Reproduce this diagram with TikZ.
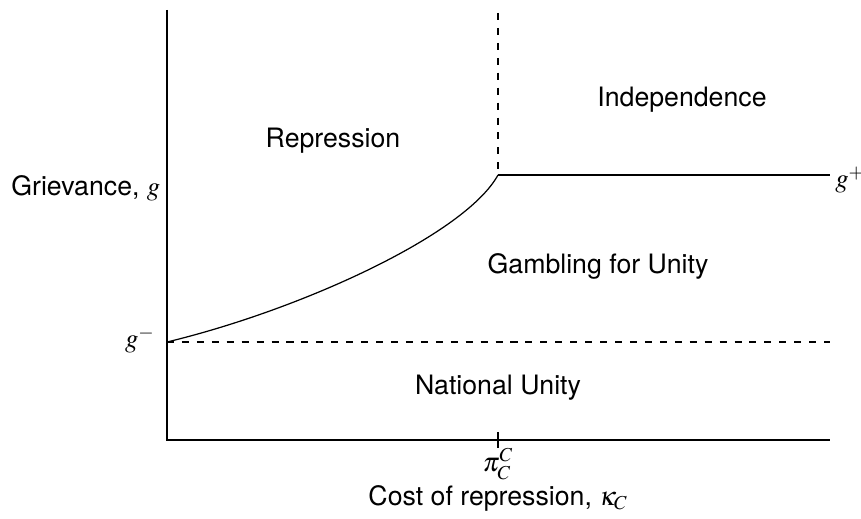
\documentclass[tikz,border=0pt]{standalone}
\usepackage{mathptmx}
\usepackage[no-math]{fontspec}
\setmainfont{TeX Gyre Heros}
\usetikzlibrary{positioning,calc}

\begin{document}
\begin{tikzpicture}[x=0.02cm,y=-0.02cm]
\tikzstyle{region}=[font=\fontsize{15.2}{17}\selectfont, inner sep=0pt];
\tikzstyle{axis}=[line width=1.1pt];
\tikzstyle{bound}=[line width=1.1pt, dash pattern=on 4pt off 4.5pt];
\tikzstyle{frontier}=[line width=0.7pt];
\useasboundingbox (0,0) rectangle (861,519);
  % axes and break points
  \coordinate (origin) at (167,440);
  \coordinate (ytop) at (167,10);
  \coordinate (xend) at (830,440);
  \coordinate (gminus) at (167,342);
  \coordinate (gminusend) at (830,342);
  \coordinate (kink) at (498,175);
  \coordinate (kinktop) at (498,13);
  \coordinate (gplusend) at (830,175);
  \coordinate (ticktop) at (498,432);
  \coordinate (tickbot) at (498,448);

  % region names
  \node[region] (repression) at (333,141) {Repression};
  \node[region] (independence) at (682,100) {Independence};
  \node[region] (gambling) at (598,266) {Gambling for Unity};
  \node[region] (unity) at (498,388) {National Unity};

  % axis labels
  \node[region, anchor=west] (ylabel) at (11,188) {Grievance, $g$};
  \node[region, anchor=east] (glow) at (155,340) {$g^-$};
  \node[region, anchor=west] (ghigh) at (835,180) {$g^+$};
  \node[region] (pi) at (498,464) {$\pi_C^C$};
  \node[region] (xlabel) at (498,498) {Cost of repression, $\kappa_C$};

  \draw[axis] (ytop) -- (origin) -- (xend);
  \draw[axis] (ticktop) -- (tickbot);
  \draw[bound] (gminus) -- (gminusend);
  \draw[bound] (kinktop) -- (kink);
  \draw[frontier] (kink) -- (gplusend);
  \draw[frontier] (gminus) .. controls (300,310) and (465,235) .. (kink);
\end{tikzpicture}
\end{document}
